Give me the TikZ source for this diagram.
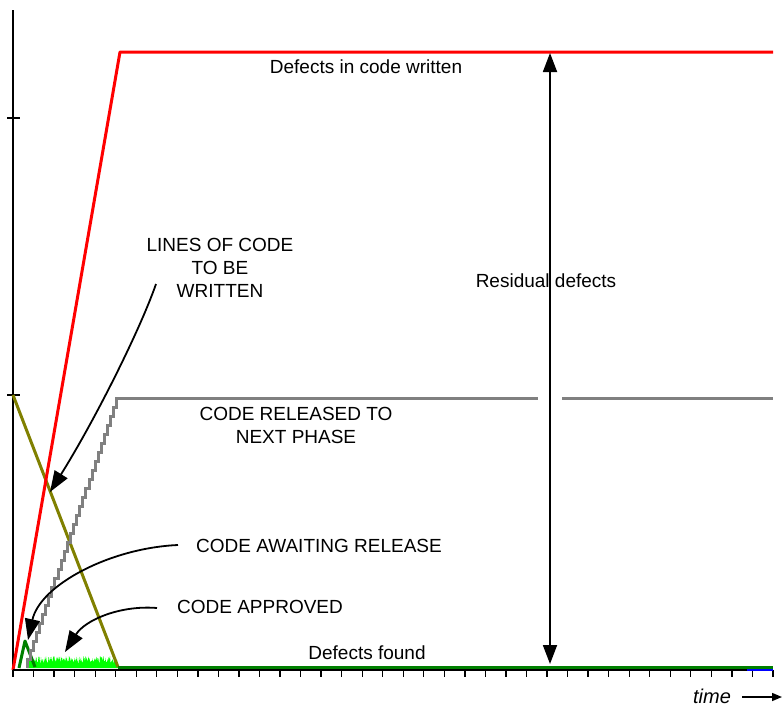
\documentclass[tikz,border=0pt]{standalone}
\usepackage{fontspec}
\setmainfont{Liberation Sans}
\usetikzlibrary{arrows.meta}
\definecolor{olivec}{RGB}{128,128,0}
\definecolor{darkg}{RGB}{0,128,0}
\definecolor{brightg}{RGB}{0,255,0}
\definecolor{grayc}{RGB}{128,128,128}
\tikzset{
  lbl/.style={font=\fontsize{19}{23}\selectfont, align=center, inner sep=0pt},
  callout/.style={black, line width=1.8pt, -{Triangle[length=21pt,width=15pt]}},
  curve/.style={line width=3pt, line join=round},
}
\begin{document}
\begin{tikzpicture}[x=1pt,y=-1pt]
\useasboundingbox (0,0) rectangle (784,707);

% axes and ticks
\draw[line width=1.5pt] (13,10) -- (13,670);
\draw[line width=1.5pt] (7,118) -- (20,118);
\draw[line width=1.5pt] (7,395) -- (20,395);
\foreach \k in {0,...,37} \draw[line width=1.3pt] ({13+\k*20.54},670) -- ({13+\k*20.54},677);

% code approved: noisy band
\pgfmathsetseed{7}
\fill[brightg] (27,668) \foreach \i in {0,...,180} { -- ({27+\i/2},{656+7*rnd}) } -- (118,668) -- cycle;

% code awaiting release
\draw[darkg, curve] (19,668) -- (25,641) -- (35,667);

% lines of code to be written
\draw[olivec, curve] (13,395) -- (118,667);

% code released to next phase (staircase)
\draw[grayc, line width=3pt] (27,668) \foreach \i in {1,...,30} { -- ++(0,-9) -- ++(3.1,0) } -- (538,398);
\draw[grayc, line width=3pt] (562,398) -- (773,398);

% defects in code written
\draw[red, curve] (13,670) -- (120,52) -- (773,52);

% defects found along the base
\draw[black, line width=2.5pt] (13,670) -- (773,670);
\draw[blue, line width=2.5pt] (747,670) -- (773,670);
\draw[darkg, line width=3pt] (118,667) -- (773,667);

% labels
\node[lbl] (dw) at (366,67) {Defects in code written};
\node[lbl] (rd) at (546,281) {Residual defects};
\node[lbl] (loc) at (220,268) {LINES OF CODE\\TO BE\\WRITTEN};
\node[lbl] (rel) at (296,425) {CODE RELEASED TO\\NEXT PHASE};
\node[lbl] (await) at (319,546) {CODE AWAITING RELEASE};
\node[lbl] (appr) at (260,607) {CODE APPROVED};
\node[lbl] (df) at (367,653) {Defects found};
\node[font=\fontsize{20}{22}\selectfont\itshape, inner sep=0pt] (time) at (712,696) {time};

% arrow targets
\coordinate (locS) at (156,284);
\coordinate (locT) at (50,492);
\coordinate (awS) at (178,545);
\coordinate (awT) at (28,640);
\coordinate (apS) at (157,608);
\coordinate (apT) at (65,652);
\coordinate (rTop) at (550,53);
\coordinate (rBot) at (550,664);
\coordinate (tS) at (742,697);
\coordinate (tE) at (782,697);

% callout arrows
\draw[callout] (locS) .. controls (140,330) and (95,420) .. (locT);
\draw[callout] (awS) .. controls (110,548) and (40,585) .. (awT);
\draw[callout] (apS) .. controls (120,605) and (85,620) .. (apT);
\draw[black, line width=1.8pt, {Triangle[length=19pt,width=14pt]}-{Triangle[length=19pt,width=14pt]}] (rTop) -- (rBot);
\draw[black, line width=1.5pt, -{Triangle[length=10pt,width=8pt]}] (tS) -- (tE);
\end{tikzpicture}
\end{document}
